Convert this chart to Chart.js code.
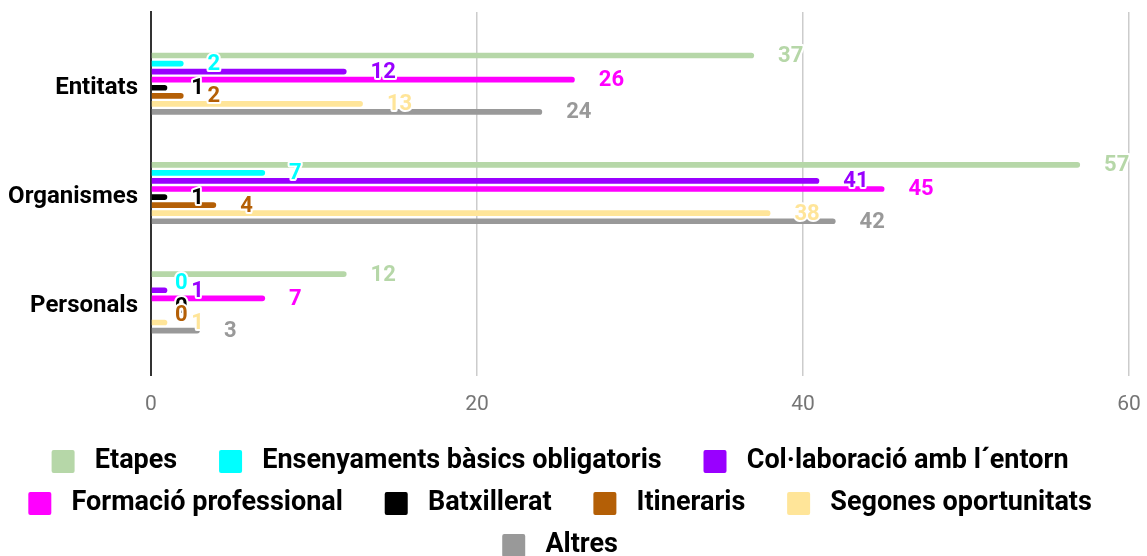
<!DOCTYPE html>
<html>
<head>
<meta charset="utf-8">
<script src="https://cdn.jsdelivr.net/npm/chart.js@4.4.1/dist/chart.umd.min.js"></script>
<style>
  html, body { margin: 0; padding: 0; background: #fff; }
</style>
</head>
<body>
<canvas id="myChart" width="1147" height="556"></canvas>
<script>
// Dades
const categories = ['Entitats', 'Organismes', 'Personals'];
const seriesNames = ['Etapes', 'Ensenyaments bàsics obligatoris', 'Col·laboració amb l´entorn',
  'Formació professional', 'Batxillerat', 'Itineraris', 'Segones oportunitats', 'Altres'];
const etapes = [37, 57, 12];
const ensenyaments = [2, 7, 0];
const collaboracio = [12, 41, 1];
const formacio = [26, 45, 7];
const batxillerat = [1, 1, 0];
const itineraris = [2, 4, 0];
const segones = [13, 38, 1];
const altres = [24, 42, 3];
const xTicks = [0, 20, 40, 60];

const colors = ['#b6d7a8', '#00ffff', '#9900ff', '#ff00ff', '#000000', '#b45f06', '#ffe599', '#999999'];
const values = [etapes, ensenyaments, collaboracio, formacio, batxillerat, itineraris, segones, altres];

Chart.defaults.font.family = 'Roboto';

// etiquetes de valor al final de cada barra, amb vora blanca
const valueLabels = {
  id: 'valueLabels',
  afterDatasetsDraw(chart) {
    const ctx = chart.ctx;
    ctx.save();
    ctx.font = 'bold 22px Roboto';
    ctx.textAlign = 'left';
    ctx.textBaseline = 'middle';
    ctx.lineJoin = 'round';
    ctx.lineWidth = 4;
    ctx.strokeStyle = '#ffffff';
    chart.data.datasets.forEach((ds, i) => {
      chart.getDatasetMeta(i).data.forEach((bar, j) => {
        const x = bar.x + 24;
        const y = bar.y + 1;
        ctx.strokeText(String(ds.data[j]), x, y);
        ctx.fillStyle = ds.backgroundColor;
        ctx.fillText(String(ds.data[j]), x, y);
      });
    });
    ctx.restore();
  }
};

// marge extra a dalt i a baix de l'eix de categories
const catPad = {
  id: 'catPad',
  afterLayout(chart) {
    const s = chart.scales.y;
    s._startValue = -0.656;
    s._valueRange = categories.length - 1 + 1.328;
  }
};

var ctx = document.getElementById('myChart').getContext('2d');
var chart = new Chart(ctx, {
  type: 'bar',
  data: {
    labels: categories,
    datasets: seriesNames.map((name, i) => ({
      label: name,
      data: values[i],
      backgroundColor: colors[i],
      borderWidth: 0,
      borderRadius: 3,
      borderSkipped: 'start',
      barPercentage: 0.71,
      categoryPercentage: 0.59
    }))
  },
  options: {
    indexAxis: 'y',
    responsive: false,
    animation: false,
    layout: { padding: { top: 12, bottom: -13 } },
    scales: {
      x: {
        min: xTicks[0],
        max: xTicks[xTicks.length - 1],
        ticks: {
          stepSize: xTicks[1] - xTicks[0],
          color: '#757575',
          font: { size: 21 },
          padding: 16
        },
        grid: { color: '#cccccc', lineWidth: 1.5, drawTicks: false },
        border: { display: false },
        afterFit: s => { s.paddingRight = 18; }
      },
      y: {
        ticks: {
          color: '#000000',
          font: { size: 24, weight: 'bold' },
          padding: 13,
          labelOffset: 4
        },
        grid: { display: false, drawTicks: false },
        border: { display: true, color: '#333333', width: 2 },
        afterFit: s => { s.width = 151; s.paddingTop = 0; s.paddingBottom = 0; }
      }
    },
    plugins: {
      tooltip: { enabled: false },
      legend: {
        position: 'bottom',
        labels: {
          color: '#000000',
          font: { size: 27, weight: 'bold' },
          boxWidth: 23,
          boxHeight: 23,
          padding: 15,
          useBorderRadius: true,
          borderRadius: 2,
          generateLabels(chart) {
            const items = Chart.defaults.plugins.legend.labels.generateLabels(chart);
            items.forEach(it => {
              it.text = ' ' + it.text + '    ';
              it.lineWidth = 0;
            });
            return items;
          }
        }
      }
    }
  },
  plugins: [valueLabels, catPad]
});
</script>
</body>
</html>
